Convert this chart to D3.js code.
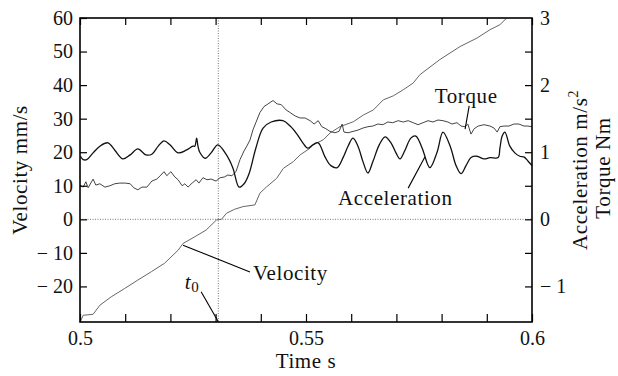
<!DOCTYPE html>
<html>
<head>
<meta charset="utf-8">
<script src="https://cdn.jsdelivr.net/npm/d3@7"></script>
</head>
<body style="margin:0">
<div id="chart"></div>
<script>
// time [s], velocity [mm/s]
const velocity = [
  [0.5001,-30.4],[0.5007,-28.6],[0.5029,-28.3],[0.5044,-25.6],[0.5069,-23.1],[0.5099,-20.6],
  [0.5128,-18.1],[0.5158,-15.6],[0.5187,-13.1],[0.5217,-9.2],[0.5228,-7.2],[0.5254,-5.2],
  [0.5279,-3.2],[0.5302,-0.2],[0.5313,0],[0.5324,1.8],[0.5342,3.0],[0.5361,3.8],[0.5387,4.3],
  [0.5398,7.8],[0.5413,9.7],[0.5435,12.2],[0.5450,15.2],[0.5472,17.2],[0.5487,19.2],[0.5509,21.2],
  [0.5516,22.2],[0.5538,23.7],[0.5553,25.7],[0.5575,27.6],[0.5605,29.1],[0.5627,31.1],[0.5649,32.6],
  [0.5671,35.6],[0.5693,36.8],[0.5715,38.6],[0.5737,40.6],[0.5752,43.1],[0.5796,47.6],[0.5841,51.5],
  [0.5878,54.0],[0.5907,56.5],[0.5929,58.0],[0.5944,60]
];

// time [s], acceleration [m/s^2]
const acceleration = [
  [0.5001,0.94],[0.5007,0.89],[0.5015,0.89],[0.5029,0.99],[0.5044,1.09],[0.5062,1.14],[0.5077,1.03],
  [0.5095,0.90],[0.5111,0.96],[0.5128,1.05],[0.5146,0.96],[0.5159,0.97],[0.5173,1.09],[0.5186,1.17],
  [0.5199,1.11],[0.5217,0.99],[0.5235,1.03],[0.5250,1.09],[0.5254,1.09],[0.5258,1.21],[0.5261,1.09],
  [0.5265,1.00],[0.5277,0.91],[0.5290,0.99],[0.5305,1.11],[0.5323,0.97],[0.5338,0.77],[0.5352,0.48],
  [0.5363,0.53],[0.5374,0.68],[0.5389,1.06],[0.5405,1.36],[0.5423,1.45],[0.5449,1.47],[0.5465,1.39],
  [0.5480,1.27],[0.5493,1.14],[0.5504,1.06],[0.5515,1.11],[0.5527,1.14],[0.5542,0.93],[0.5555,0.80],
  [0.5569,0.77],[0.5582,0.92],[0.5593,1.09],[0.5604,1.21],[0.5615,1.09],[0.5626,0.86],[0.5637,0.69],
  [0.5648,0.86],[0.5662,1.11],[0.5675,1.23],[0.5688,1.14],[0.5699,0.99],[0.5708,0.90],[0.5719,1.03],
  [0.5732,1.21],[0.5743,1.24],[0.5757,1.06],[0.5774,0.77],[0.5790,1.00],[0.5803,1.30],[0.5819,1.09],
  [0.5832,0.80],[0.5843,0.68],[0.5854,0.80],[0.5865,0.92],[0.5878,0.94],[0.5894,0.90],[0.5907,0.92],
  [0.5925,0.92],[0.5929,1.06],[0.5934,1.24],[0.5940,1.30],[0.5951,1.09],[0.5962,0.99],[0.5973,0.94],
  [0.5982,0.93],[0.5991,0.87],[0.6000,0.80]
];

// time [s], torque [Nm]
const torque = [
  [0.5000,0.51],[0.5007,0.48],[0.5013,0.56],[0.5018,0.47],[0.5029,0.60],[0.5035,0.51],[0.5044,0.53],
  [0.5055,0.48],[0.5066,0.50],[0.5077,0.53],[0.5088,0.54],[0.5100,0.54],[0.5111,0.53],[0.5119,0.47],
  [0.5128,0.44],[0.5137,0.48],[0.5148,0.48],[0.5159,0.57],[0.5170,0.60],[0.5179,0.66],[0.5186,0.71],
  [0.5192,0.65],[0.5201,0.71],[0.5210,0.63],[0.5217,0.59],[0.5226,0.50],[0.5232,0.53],[0.5239,0.48],
  [0.5248,0.54],[0.5257,0.59],[0.5263,0.54],[0.5272,0.62],[0.5281,0.59],[0.5290,0.60],[0.5301,0.57],
  [0.5310,0.62],[0.5319,0.63],[0.5327,0.66],[0.5336,0.65],[0.5345,0.71],[0.5354,0.89],[0.5363,1.02],
  [0.5369,1.09],[0.5376,1.18],[0.5383,1.34],[0.5389,1.44],[0.5398,1.59],[0.5407,1.68],[0.5416,1.72],
  [0.5427,1.77],[0.5436,1.72],[0.5445,1.71],[0.5456,1.63],[0.5465,1.59],[0.5476,1.54],[0.5487,1.51],
  [0.5498,1.51],[0.5509,1.47],[0.5518,1.42],[0.5527,1.47],[0.5535,1.38],[0.5544,1.35],[0.5553,1.31],
  [0.5564,1.29],[0.5573,1.31],[0.5580,1.42],[0.5584,1.30],[0.5593,1.29],[0.5604,1.31],[0.5615,1.33],
  [0.5626,1.36],[0.5637,1.38],[0.5648,1.39],[0.5659,1.42],[0.5670,1.41],[0.5681,1.45],[0.5692,1.44],
  [0.5704,1.47],[0.5715,1.45],[0.5726,1.47],[0.5737,1.44],[0.5748,1.41],[0.5759,1.44],[0.5770,1.47],
  [0.5781,1.45],[0.5792,1.48],[0.5803,1.47],[0.5814,1.45],[0.5823,1.42],[0.5834,1.44],[0.5843,1.39],
  [0.5852,1.38],[0.5858,1.42],[0.5865,1.27],[0.5872,1.35],[0.5881,1.39],[0.5894,1.41],[0.5907,1.39],
  [0.5916,1.36],[0.5923,1.30],[0.5929,1.38],[0.5938,1.39],[0.5949,1.39],[0.5960,1.42],[0.5971,1.42],
  [0.5982,1.39],[0.5991,1.39],[0.6000,1.38]
];

const t0 = 0.5306;
const timeTicks = d3.range(0, 11).map(i => 0.5 + i * 0.01);
const timeLabels = [0.5, 0.55, 0.6];
const velTicks = [-20, -10, 0, 10, 20, 30, 40, 50, 60];
const accTicks = [-1, -0.5, 0, 0.5, 1, 1.5, 2, 2.5];
const accLabels = [-1, 0, 1, 2, 3];

// annotations, in time / velocity units
const notes = [
  { text: 'Velocity', at: [0.5383, -18.1], from: [0.5228, -7.7], to: [0.5376, -15.7] },
  { text: 'Acceleration', at: [0.5571, 4.3], from: [0.5726, 9.3], to: [0.5763, 18.6] },
  { text: 'Torque', at: [0.5785, 34.7], from: [0.5861, 33.8], to: [0.5852, 26.9] }
];

const FONT = '"Liberation Serif"';
const W = 618, H = 376;
const m = { left: 80, right: 86, top: 18, bottom: 54 };

const svg = d3.select('#chart').append('svg')
  .attr('width', W).attr('height', H)
  .attr('font-family', FONT);

const x = d3.scaleLinear().domain([0.5, 0.6]).range([m.left, W - m.right]);
const yL = d3.scaleLinear().domain([-30.6, 60]).range([H - m.bottom, m.top]);
const yR = d3.scaleLinear().domain([-1.53, 3]).range([H - m.bottom, m.top]);

const fmt = d => d < 0 ? '\u2212 ' + Math.abs(d) : String(d);

svg.append('defs').append('clipPath').attr('id', 'plot')
  .append('rect')
  .attr('x', m.left).attr('y', m.top)
  .attr('width', W - m.left - m.right).attr('height', H - m.top - m.bottom);

// dotted reference lines
svg.append('line')
  .attr('x1', m.left).attr('x2', W - m.right)
  .attr('y1', yL(0)).attr('y2', yL(0))
  .attr('stroke', '#777').attr('stroke-width', 1).attr('stroke-dasharray', '1,1.5');
svg.append('line')
  .attr('x1', x(t0)).attr('x2', x(t0))
  .attr('y1', m.top).attr('y2', H - m.bottom)
  .attr('stroke', '#777').attr('stroke-width', 1).attr('stroke-dasharray', '1,1.5');

const plot = svg.append('g').attr('clip-path', 'url(#plot)');

plot.append('path')
  .datum(velocity)
  .attr('fill', 'none').attr('stroke', '#666').attr('stroke-width', 1)
  .attr('d', d3.line().x(d => x(d[0])).y(d => yL(d[1])));

plot.append('path')
  .datum(torque)
  .attr('fill', 'none').attr('stroke', '#444').attr('stroke-width', 1)
  .attr('d', d3.line().x(d => x(d[0])).y(d => yR(d[1])));

plot.append('path')
  .datum(acceleration)
  .attr('fill', 'none').attr('stroke', '#111').attr('stroke-width', 1.3)
  .attr('d', d3.line().curve(d3.curveCatmullRom.alpha(0.5)).x(d => x(d[0])).y(d => yR(d[1])));

// axes, ticks pointing inward
const axisStyle = g => {
  g.attr('font-family', FONT).attr('font-size', 20);
  g.select('.domain').remove();
  g.selectAll('.tick line').attr('stroke', '#000').attr('stroke-width', 1.2);
  g.selectAll('.tick text').attr('fill', '#111');
};

svg.append('g')
  .attr('transform', `translate(0,${H - m.bottom})`)
  .call(d3.axisBottom(x).tickValues(timeTicks).tickSizeInner(-8).tickSizeOuter(0).tickPadding(9)
    .tickFormat(d => timeLabels.some(v => Math.abs(v - d) < 1e-9) ? d3.format('~g')(+d.toFixed(2)) : ''))
  .call(axisStyle);

svg.append('g')
  .attr('transform', `translate(0,${m.top})`)
  .call(d3.axisTop(x).tickValues(timeTicks).tickSizeInner(-7).tickSizeOuter(0).tickFormat(''))
  .call(axisStyle);

svg.append('g')
  .attr('transform', `translate(${m.left},0)`)
  .call(d3.axisLeft(yL).tickValues(velTicks).tickSizeInner(-7).tickSizeOuter(0).tickPadding(7).tickFormat(fmt))
  .call(axisStyle);

svg.append('g')
  .attr('transform', `translate(${W - m.right},0)`)
  .call(d3.axisRight(yR).tickValues(accTicks).tickSizeInner(-7).tickSizeOuter(0).tickFormat(''))
  .call(axisStyle);

svg.append('g')
  .attr('transform', `translate(${W - m.right},0)`)
  .call(d3.axisRight(yR).tickValues(accLabels).tickSize(0).tickPadding(8).tickFormat(fmt))
  .call(axisStyle);

// frame
svg.append('rect')
  .attr('x', m.left).attr('y', m.top)
  .attr('width', W - m.left - m.right).attr('height', H - m.top - m.bottom)
  .attr('fill', 'none').attr('stroke', '#000').attr('stroke-width', 1.6);

// axis titles
const label = sel => sel.attr('font-family', FONT).attr('font-size', 21)
  .attr('letter-spacing', 0.6).attr('fill', '#111');

svg.append('text')
  .attr('x', x(0.55)).attr('y', 368)
  .attr('text-anchor', 'middle')
  .call(label)
  .text('Time s');

svg.append('text')
  .attr('transform', `translate(27,${(m.top + H - m.bottom) / 2}) rotate(-90)`)
  .attr('text-anchor', 'middle')
  .call(label)
  .text('Velocity mm/s');

const rt = svg.append('text')
  .attr('transform', `translate(587,${(m.top + H - m.bottom) / 2}) rotate(-90)`)
  .attr('text-anchor', 'middle')
  .call(label);
rt.append('tspan').text('Acceleration m/s');
rt.append('tspan').attr('dy', -9).attr('font-size', 14).text('2');

svg.append('text')
  .attr('transform', `translate(610,${(m.top + H - m.bottom) / 2 - 2}) rotate(-90)`)
  .attr('text-anchor', 'middle')
  .call(label)
  .text('Torque Nm');

// curve labels with leader lines
notes.forEach(n => {
  svg.append('line')
    .attr('x1', x(n.from[0])).attr('y1', yL(n.from[1]))
    .attr('x2', x(n.to[0])).attr('y2', yL(n.to[1]))
    .attr('stroke', '#000').attr('stroke-width', 1.1);
  svg.append('text')
    .attr('x', x(n.at[0])).attr('y', yL(n.at[1]))
    .call(label)
    .text(n.text);
});

// t0 marker
svg.append('line')
  .attr('x1', x(0.5268)).attr('y1', yL(-21.6))
  .attr('x2', x(t0)).attr('y2', yL(-30.5))
  .attr('stroke', '#000').attr('stroke-width', 1.1);
const t0Label = svg.append('text')
  .attr('x', x(0.5232)).attr('y', yL(-20.8))
  .call(label);
t0Label.append('tspan').attr('font-style', 'italic').text('t');
t0Label.append('tspan').attr('dy', 3).attr('font-size', 15).text('0');
</script>
</body>
</html>
